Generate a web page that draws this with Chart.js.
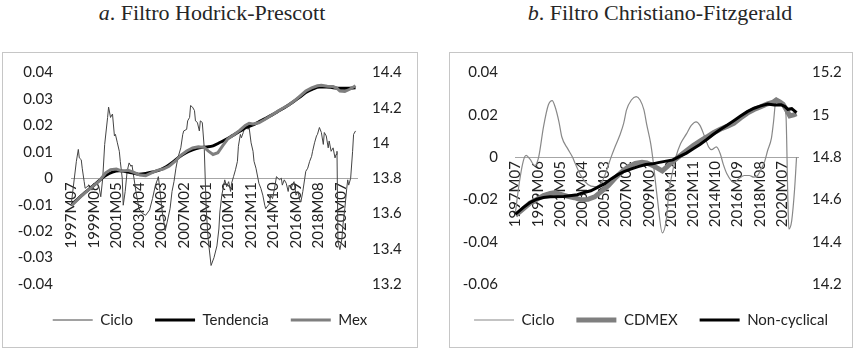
<!DOCTYPE html>
<html>
<head>
<meta charset="utf-8">
<script src="https://cdn.jsdelivr.net/npm/chart.js@4.4.1/dist/chart.umd.min.js"></script>
<style>
  html, body { margin: 0; padding: 0; background: #fff; }
  body { width: 854px; height: 349px; position: relative; overflow: hidden; }
  .title {
    position: absolute; top: 2px;
    font-family: "Liberation Serif", serif; font-size: 22px; line-height: 22px;
    color: #262626; white-space: nowrap; transform: translateX(-50%);
  }
  .panel { position: absolute; top: 52px; height: 296px; border: 1px solid #c6c6c6; box-sizing: border-box; }
  .panel canvas { display: block; }
</style>
</head>
<body>
<div class="title" style="left:212px"><i>a</i>. Filtro Hodrick-Prescott</div>
<div class="title" style="left:660px"><i>b</i>. Filtro Christiano-Fitzgerald</div>
<div class="panel" style="left:2px;width:416px"><canvas id="hp" width="414" height="294"></canvas></div>
<div class="panel" style="left:449px;width:404px"><canvas id="cf" width="402" height="294"></canvas></div>

<script>
// Month index 0 = 1997M07; axis labels every 23 months
const tickMonths = [0, 23, 46, 69, 92, 115, 138, 161, 184, 207, 230, 253, 276];
const tickLabels = ['1997M07', '1999M06', '2001M05', '2003M04', '2005M03', '2007M02', '2009M01',
                    '2010M12', '2012M11', '2014M10', '2016M09', '2018M08', '2020M07'];

// Hodrick-Prescott: cycle (left axis), trend and series (right axis, logs)
const hpCiclo = [
  [0,-0.009],[5,0.0064],[7,0.0109],[8,0.0077],[10,0.007],[11,0.0038],[13,-0.0013],[14,-0.0038],
  [18,-0.0026],[21,-0.0045],[25,-0.0019],[28,-0.003],[30,-0.007],[32,0.0],[34,0.0128],[37,0.023],
  [38,0.0269],[40,0.023],[42,0.0243],[44,0.016],[45,0.0166],[47,0.0134],[49,0.0102],[50,0.0064],
  [52,0.0],[53,-0.0102],[55,-0.005],[57,0.0026],[59,0.0058],[61,0.0045],[62,0.005],[64,0.0],
  [66,-0.005],[68,-0.009],[69,-0.0115],[73,-0.0134],[76,-0.014],[80,-0.012],[83,-0.0077],[86,-0.0026],
  [88,-0.0006],[89,0.0006],[90,-0.0026],[93,-0.0128],[96,-0.0198],[98,-0.0166],[101,-0.0115],[103,-0.005],
  [105,-0.0013],[107,0.0038],[109,0.0077],[112,0.0115],[114,0.0166],[115,0.0179],[118,0.0185],[119,0.0217],
  [121,0.023],[122,0.0275],[124,0.0269],[126,0.0256],[127,0.0217],[129,0.0211],[131,0.0179],[132,0.0217],
  [134,0.0211],[136,0.0115],[137,0.0],[138,-0.0115],[140,-0.023],[143,-0.033],[146,-0.030],[149,-0.0256],
  [151,-0.0192],[152,-0.0128],[154,-0.0064],[156,-0.0026],[157,-0.0006],[159,-0.0032],[161,-0.0013],[163,-0.005],
  [164,-0.0019],[166,0.0006],[168,0.0032],[170,0.0064],[171,0.0121],[173,0.0166],[174,0.0153],[176,0.0173],
  [178,0.0198],[179,0.0205],[181,0.0185],[182,0.0192],[184,0.0134],[186,0.0102],[187,0.0064],[189,0.0038],
  [191,0.0],[192,-0.0019],[194,-0.0038],[196,-0.0064],[198,-0.0102],[199,-0.0115],[201,-0.0105],[203,-0.0096],
  [204,-0.0064],[206,-0.0077],[208,-0.0038],[210,0.0006],[211,0.0003],[213,-0.0006],[215,0.0],[216,-0.0026],
  [218,-0.0006],[220,-0.0019],[222,-0.005],[223,-0.0026],[225,-0.0038],[227,-0.0019],[228,-0.0013],[230,-0.0064],
  [232,-0.005],[234,-0.0083],[235,-0.009],[237,-0.005],[239,0.0],[240,0.0026],[242,0.0038],[244,0.0064],
  [246,0.0083],[247,0.0102],[249,0.0134],[251,0.016],[252,0.0166],[254,0.0192],[256,0.0173],[258,0.0128],
  [259,0.0173],[261,0.016],[263,0.0115],[264,0.0141],[266,0.0102],[268,0.0115],[270,0.0077],[271,0.009],
  [272,0.0102],[273,-0.024],[275,-0.027],[277,-0.023],[278,-0.018],[280,-0.0115],[282,-0.0038],[283,-0.0006],
  [284,-0.0026],[286,0.0],[288,0.0102],[289,0.0166],[291,0.0179]
];
const hpTendencia = [
  [0,13.65],[7,13.685],[14,13.72],[21,13.752],[28,13.785],[35,13.815],[42,13.835],[49,13.842],
  [55,13.838],[62,13.831],[69,13.823],[76,13.827],[83,13.835],[90,13.846],[97,13.865],[103,13.888],
  [110,13.919],[117,13.944],[124,13.961],[131,13.973],[138,13.978],[145,13.984],[151,14.0],[158,14.019],
  [165,14.042],[172,14.065],[179,14.088],[186,14.103],[192,14.12],[199,14.14],[206,14.161],[213,14.184],
  [220,14.207],[227,14.233],[234,14.26],[240,14.287],[247,14.306],[254,14.318],[261,14.318],[268,14.314],
  [275,14.31],[282,14.31],[291,14.314]
];
const hpMex = [
  [0,13.645],[7,13.683],[14,13.718],[21,13.75],[28,13.782],[35,13.83],[40,13.848],[46,13.852],
  [52,13.84],[58,13.845],[64,13.833],[70,13.818],[76,13.815],[82,13.83],[88,13.845],[94,13.852],
  [100,13.868],[106,13.895],[112,13.93],[118,13.955],[124,13.972],[130,13.978],[136,13.975],[140,13.955],
  [145,13.935],[150,13.945],[155,13.985],[160,14.022],[166,14.045],[172,14.07],[178,14.1],[182,14.112],
  [186,14.108],[192,14.115],[198,14.133],[204,14.155],[210,14.175],[216,14.196],[222,14.214],[228,14.238],
  [234,14.266],[240,14.295],[246,14.313],[252,14.325],[256,14.327],[262,14.322],[268,14.32],[272,14.31],
  [275,14.295],[280,14.292],[285,14.305],[291,14.325]
];

// Christiano-Fitzgerald: cycle (left axis), series and non-cyclical part (right axis)
const cfCiclo = [
  [0,-0.026],[4,-0.012],[8,-0.002],[11,0.0008],[15,-0.001],[20,-0.004],[24,0.0],[29,0.0143],
  [34,0.0246],[38,0.0267],[41,0.0238],[45,0.0167],[48,0.0095],[54,0.004],[59,0.0],[62,-0.0032],
  [68,-0.009],[75,-0.013],[82,-0.014],[89,-0.012],[93,-0.008],[96,-0.004],[99,0.0],[103,0.0048],
  [108,0.0103],[112,0.0159],[115,0.0223],[120,0.027],[125,0.0286],[129,0.027],[133,0.0223],[136,0.0151],
  [140,0.0064],[142,0.0],[147,-0.02],[152,-0.0358],[156,-0.03],[159,-0.016],[163,-0.006],[166,0.0],
  [171,0.0064],[177,0.011],[182,0.015],[187,0.0167],[191,0.015],[196,0.0095],[200,0.0048],[203,0.0035],
  [208,0.0048],[212,0.0016],[215,-0.0032],[219,-0.008],[226,-0.0119],[231,-0.0103],[237,-0.0087],[242,-0.0087],
  [247,-0.0095],[251,-0.0085],[254,-0.006],[258,-0.002],[261,0.003],[265,0.009],[267,0.016],[270,0.0278],
  [274,0.026],[277,0.024],[280,0.02],[282,-0.02],[283,-0.034],[286,-0.03],[289,-0.015],[291,0.0]
];
const cfCdmex = [
  [0,14.525],[8,14.555],[15,14.583],[22,14.6],[29,14.618],[36,14.628],[41,14.632],[46,14.625],
  [54,14.614],[61,14.608],[68,14.598],[75,14.6],[82,14.612],[89,14.638],[96,14.665],[103,14.7],
  [110,14.73],[117,14.755],[124,14.77],[131,14.775],[136,14.772],[142,14.76],[147,14.748],[152,14.735],
  [157,14.755],[163,14.78],[170,14.805],[177,14.83],[184,14.855],[191,14.876],[198,14.895],[205,14.915],
  [212,14.932],[219,14.945],[226,14.96],[233,14.985],[240,15.008],[247,15.025],[254,15.038],[261,15.052],
  [267,15.06],[270,15.07],[274,15.06],[277,15.05],[281,15.02],[284,14.995],[288,15.0],[291,15.005]
];
const cfNonCyclical = [
  [0,14.53],[8,14.561],[15,14.585],[22,14.601],[29,14.609],[36,14.612],[50,14.614],[64,14.622],
  [71,14.633],[78,14.641],[85,14.657],[92,14.673],[99,14.697],[106,14.717],[113,14.733],[120,14.744],
  [127,14.755],[135,14.765],[142,14.768],[149,14.775],[156,14.781],[163,14.787],[170,14.803],[177,14.819],
  [184,14.84],[191,14.86],[198,14.883],[205,14.908],[212,14.93],[219,14.951],[226,14.972],[233,14.994],
  [240,15.015],[247,15.031],[254,15.042],[261,15.051],[268,15.046],[275,15.048],[279,15.039],[282,15.026],
  [286,15.029],[291,15.01]
];

const FONT = { family: 'Lato', size: 15 };
const TEXT = '#222222';

const toPoints = pairs => pairs.map(([x, y]) => ({ x, y }));
const fmt = (v, d) => String(Math.round(v * d) / d);

function lineSet(label, pairs, color, width, axis, order, smooth) {
  return {
    label, data: toPoints(pairs), yAxisID: axis, order,
    borderColor: color, backgroundColor: color, borderWidth: width,
    pointRadius: 0, fill: false,
    cubicInterpolationMode: smooth ? 'monotone' : 'default', tension: 0
  };
}

// Value axes: the gap between labels and plot comes from an undrawn tick length,
// so the label padding stays small and does not push the plot area down.
function valueAxis(side, min, max, step, width, gap, digits) {
  return {
    position: side, min, max,
    grid: { display: false, drawTicks: true, tickLength: gap },
    border: { display: false },
    afterFit: s => { s.width = width; },
    ticks: { stepSize: step, padding: 2, font: FONT, color: TEXT, callback: v => fmt(v, digits) }
  };
}

function buildOptions(o) {
  return {
    responsive: false, animation: false, events: [],
    layout: { padding: { top: 19.5, bottom: 9.5, left: 0, right: 0 } },
    plugins: {
      tooltip: { enabled: false },
      legend: {
        position: 'bottom',
        title: { display: true, text: '', font: { size: 1, lineHeight: 1 }, padding: { top: 5.5, bottom: 0 } },
        labels: {
          usePointStyle: true, pointStyle: 'line', pointStyleWidth: 40, padding: 22,
          font: FONT, color: TEXT,
          sort: (a, b) => a.datasetIndex - b.datasetIndex
        }
      }
    },
    scales: {
      x: {
        type: 'linear', min: -0.5, max: 292.5, position: { y: 0 },
        grid: { display: false, drawTicks: false },
        border: { display: true, color: '#a6a6a6', width: 1 },
        afterBuildTicks: s => { s.ticks = tickMonths.map(v => ({ value: v })); },
        ticks: {
          autoSkip: false, minRotation: 90, maxRotation: 90, padding: 4,
          font: FONT, color: TEXT,
          callback: (v, i) => tickLabels[i]
        }
      },
      y: valueAxis('left', o.lMin, o.lMax, o.lStep, o.lWidth, o.lGap, 100),
      y1: valueAxis('right', o.rMin, o.rMax, o.rStep, o.rWidth, o.rGap, 10)
    }
  };
}

new Chart(document.getElementById('hp'), {
  type: 'line',
  data: {
    datasets: [
      lineSet('Ciclo', hpCiclo, '#444444', 1, 'y', 2, false),
      lineSet('Tendencia', hpTendencia, '#000000', 3, 'y1', 1, true),
      lineSet('Mex', hpMex, '#7f7f7f', 3, 'y1', 0, false)
    ]
  },
  options: buildOptions({
    lMin: -0.04, lMax: 0.04, lStep: 0.01, lWidth: 68, lGap: 16,
    rMin: 13.2, rMax: 14.4, rStep: 0.2, rWidth: 60, rGap: 13
  })
});

new Chart(document.getElementById('cf'), {
  type: 'line',
  data: {
    datasets: [
      lineSet('Ciclo', cfCiclo, '#888888', 1.2, 'y', 2, true),
      lineSet('CDMEX', cfCdmex, '#7f7f7f', 5, 'y1', 1, false),
      lineSet('Non-cyclical', cfNonCyclical, '#000000', 3, 'y1', 0, false)
    ]
  },
  options: buildOptions({
    lMin: -0.06, lMax: 0.04, lStep: 0.02, lWidth: 65, lGap: 15,
    rMin: 14.2, rMax: 15.2, rStep: 0.2, rWidth: 54, rGap: 12
  })
});
</script>
</body>
</html>
